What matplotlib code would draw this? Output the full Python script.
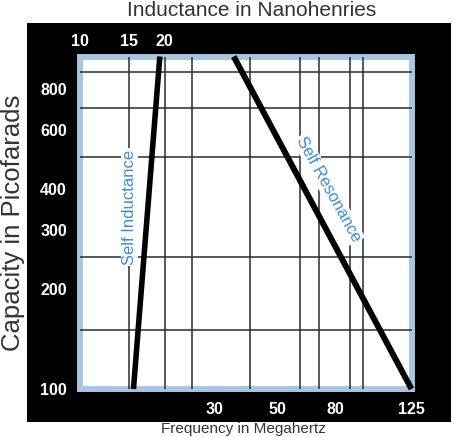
import numpy as np
import matplotlib
matplotlib.use('Agg')
import matplotlib.pyplot as plt
from matplotlib.patches import Rectangle
from matplotlib.ticker import NullFormatter, NullLocator

plt.rcParams['font.family'] = ['Liberation Sans', 'DejaVu Sans']

# ---- data ----
capacity_pf = [100, 1000]
self_inductance_nh = [15.5, 19.2]
self_resonance_mhz = [125, 35.0]

x_grid = [15, 20, 25, 30, 40, 50, 60, 70, 80, 90, 100]
y_grid = [150, 200, 250, 300, 400, 500, 600, 700, 800, 900]
top_ticks = [10, 15, 20]
top_labels = ['10', '15', '20']
bottom_ticks = [30, 50, 80, 125]
bottom_labels = ['30', '50', '80', '125']
y_ticks = [100, 200, 300, 400, 600, 800]
y_labels = ['100', '200', '300', '400', '600', '800']

BLUE_BORDER = '#a6c6e4'
BLUE_TEXT = '#3f8dcb'
GRID = '#2b2b2b'


# log scale up to 100, stretched linear segment from 100 to 125 (as drawn)
def fwd(x):
    x = np.asarray(x, float)
    xs = np.clip(x, 1e-9, None)
    return np.where(x <= 100, np.log10(xs), 2 + (x - 100) / 25 * 0.171)


def inv(u):
    u = np.asarray(u, float)
    return np.where(u <= 2, 10 ** np.minimum(u, 2), 100 + (u - 2) / 0.171 * 25)


W, H = 454, 437
fig = plt.figure(figsize=(W / 100, H / 100), dpi=100)
fig.add_artist(Rectangle((27 / W, 15 / H), (451 - 27) / W, (414 - 15) / H,
                         transform=fig.transFigure, facecolor='black',
                         edgecolor='none', zorder=-1))

ax = fig.add_axes([79.5 / W, 48 / H, 332 / W, 332.5 / H])
ax.set_facecolor('white')
ax.set_xscale('function', functions=(fwd, inv))
ax.set_yscale('log')
ax.set_xlim(10, 125)
ax.set_ylim(100, 1000)

ax.set_xticks(x_grid, minor=True)
ax.set_yticks(y_grid, minor=True)
ax.xaxis.set_minor_formatter(NullFormatter())
ax.yaxis.set_minor_formatter(NullFormatter())
ax.set_xticks(bottom_ticks, labels=bottom_labels)
ax.set_yticks(y_ticks, labels=y_labels)
ax.grid(which='minor', color=GRID, linewidth=1.1)
ax.grid(which='major', visible=False)
ax.tick_params(which='both', length=0)
ax.tick_params(axis='x', pad=9.0, labelcolor='white', labelsize=11.5)
ax.tick_params(axis='y', pad=9.0, labelcolor='white', labelsize=11.5)
for lab in ax.get_xticklabels() + ax.get_yticklabels():
    lab.set_fontweight('bold')
for s in ax.spines.values():
    s.set_visible(False)
ax.add_patch(Rectangle((0, 0), 1, 1, transform=ax.transAxes, fill=False,
                       edgecolor=BLUE_BORDER, linewidth=4.3, joinstyle='miter',
                       clip_on=False, zorder=1))

ax.plot(self_inductance_nh, capacity_pf, color='black', linewidth=4.0,
        solid_capstyle='butt', clip_on=False, zorder=3)
ax.plot(self_resonance_mhz, capacity_pf, color='black', linewidth=4.3,
        solid_capstyle='butt', clip_on=False, zorder=3)

ax.text(15.0, 352, 'Self Inductance', rotation=90, color=BLUE_TEXT,
        fontsize=12, ha='center', va='center', rotation_mode='anchor',
        bbox=dict(facecolor='white', edgecolor='none', pad=1.0), zorder=4)
ax.text(75.5, 400, 'Self Resonance', rotation=-61, color=BLUE_TEXT,
        fontsize=12, ha='center', va='center', rotation_mode='anchor',
        bbox=dict(facecolor='white', edgecolor='none', pad=1.0), zorder=4)

ax2 = ax.twiny()
ax2.set_xscale('function', functions=(fwd, inv))
ax2.set_xlim(10, 125)
ax2.set_xticks(top_ticks, labels=top_labels)
ax2.xaxis.set_minor_locator(NullLocator())
ax2.tick_params(axis='x', length=0, pad=5.5, labelcolor='white', labelsize=11.5)
for lab in ax2.get_xticklabels():
    lab.set_fontweight('bold')
for s in ax2.spines.values():
    s.set_visible(False)

fig.text(251.5 / W, (H - 15.5) / H, 'Inductance in Nanohenries', ha='center',
         va='baseline', fontsize=15, color='#333333')
fig.text(13 / W, 1 - 223 / H, 'Capacity in Picofarads', rotation=90,
         ha='center', va='center', fontsize=18.5, color='#333333')
fig.text(243 / W, 0.6 / H, 'Frequency in Megahertz', ha='center',
         va='bottom', fontsize=11, color='#333333')

fig.savefig('out.png', dpi=100)
